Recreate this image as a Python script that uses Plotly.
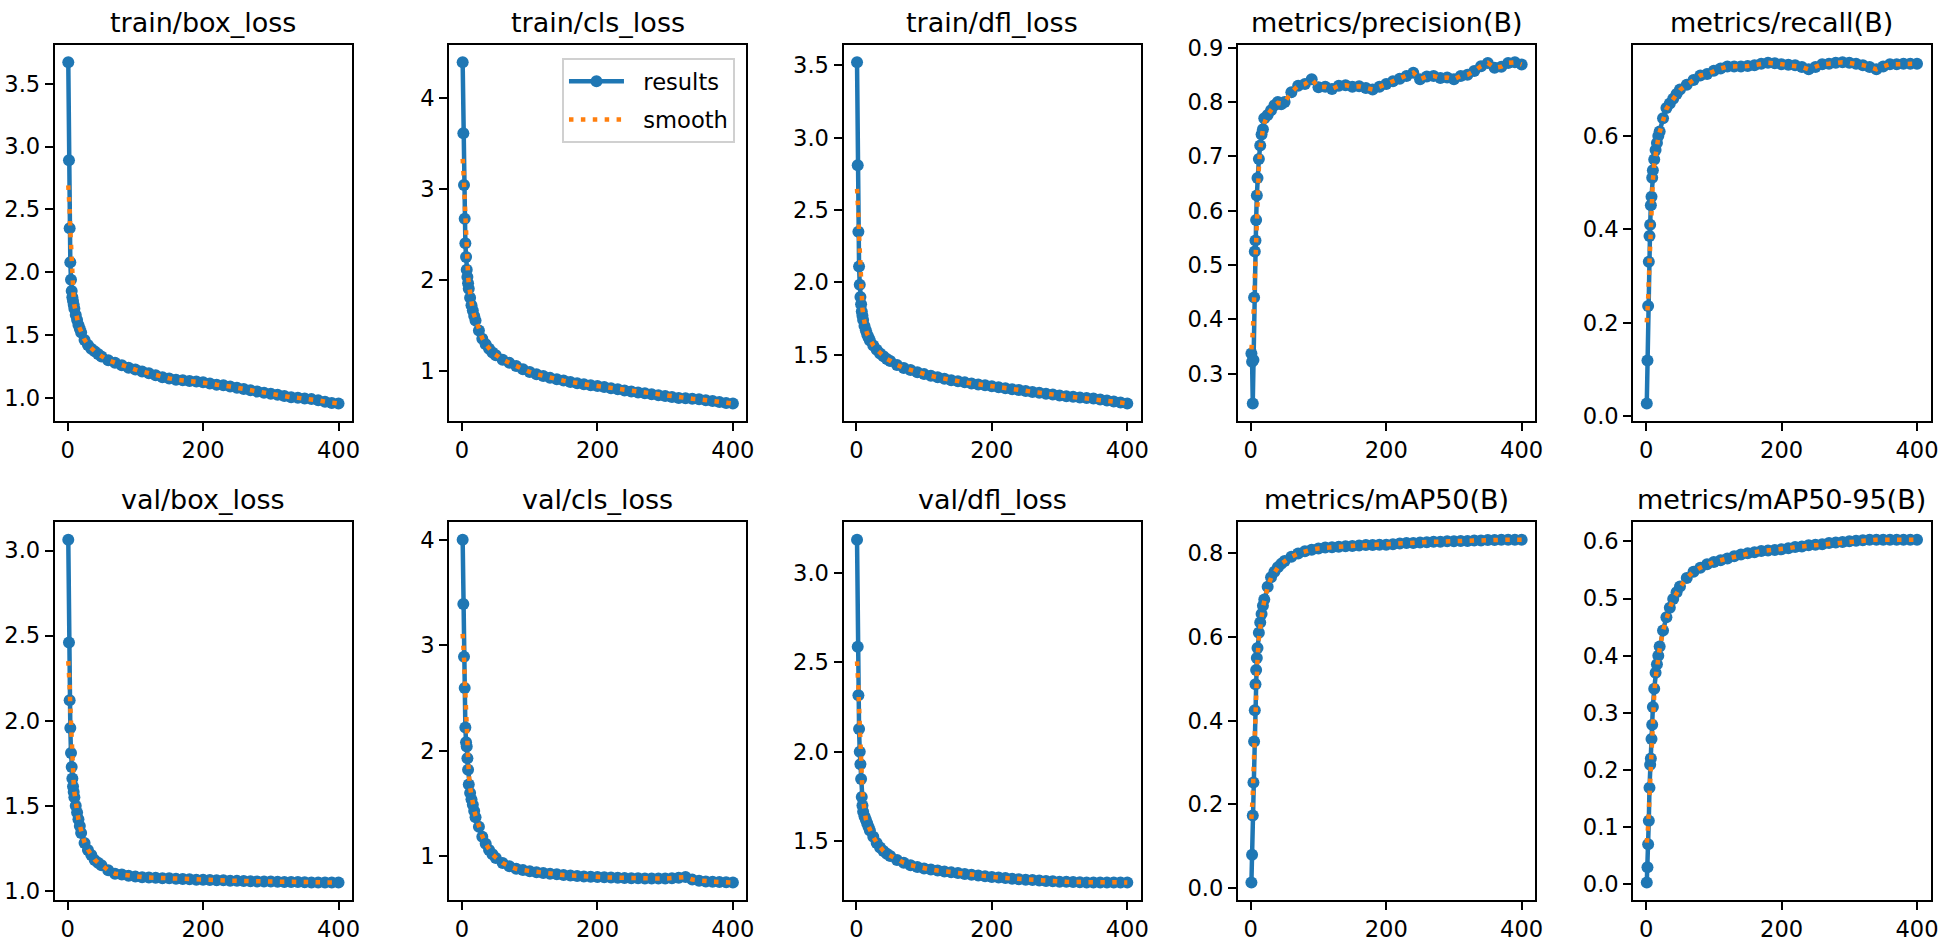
import numpy as np
import plotly.graph_objects as go
from plotly.subplots import make_subplots

epochs = [1, 2, 3, 4, 5, 6, 7, 8, 9, 10, 12, 14, 16, 18, 20,
          25, 30, 35, 40, 45, 50, 60, 70, 80, 90, 100, 110, 120, 130, 140,
          150, 160, 170, 180, 190, 200, 210, 220, 230, 240, 250, 260, 270,
          280, 290, 300, 310, 320, 330, 340, 350, 360, 370, 380, 390, 400]

train_box = [3.67, 2.89, 2.35, 2.08, 1.94, 1.85, 1.80, 1.77, 1.74, 1.71, 1.66, 1.62, 1.58, 1.55, 1.52,
             1.46, 1.42, 1.39, 1.37, 1.35, 1.33, 1.30, 1.28, 1.26, 1.24, 1.225, 1.21, 1.195, 1.18, 1.165,
             1.155, 1.145, 1.14, 1.135, 1.13, 1.125, 1.115, 1.105, 1.10, 1.09, 1.08, 1.07, 1.06,
             1.05, 1.04, 1.033, 1.025, 1.015, 1.005, 1.0, 0.995, 0.99, 0.98, 0.97, 0.96, 0.955]

train_cls = [4.39, 3.61, 3.04, 2.67, 2.40, 2.25, 2.11, 2.03, 1.96, 1.90, 1.80, 1.72, 1.66, 1.60, 1.55,
             1.44, 1.35, 1.29, 1.24, 1.20, 1.17, 1.12, 1.085, 1.05, 1.015, 0.985, 0.96, 0.94, 0.92, 0.905,
             0.89, 0.875, 0.86, 0.85, 0.84, 0.83, 0.82, 0.805, 0.795, 0.78, 0.77, 0.76, 0.75,
             0.74, 0.73, 0.72, 0.71, 0.70, 0.695, 0.69, 0.685, 0.675, 0.665, 0.655, 0.645, 0.638]

train_dfl = [3.52, 2.81, 2.35, 2.11, 1.985, 1.90, 1.85, 1.80, 1.77, 1.74, 1.70, 1.67, 1.64, 1.62, 1.60,
             1.565, 1.536, 1.51, 1.49, 1.472, 1.457, 1.43, 1.41, 1.395, 1.38, 1.367, 1.355, 1.345, 1.335, 1.325,
             1.317, 1.31, 1.303, 1.296, 1.29, 1.283, 1.277, 1.27, 1.263, 1.257, 1.25, 1.244, 1.238,
             1.232, 1.226, 1.22, 1.215, 1.21, 1.205, 1.202, 1.198, 1.192, 1.185, 1.178, 1.171, 1.164]

precision = [0.337, 0.322, 0.245, 0.325, 0.44, 0.525, 0.545, 0.583, 0.628, 0.66, 0.695, 0.72, 0.74, 0.75, 0.77,
             0.776, 0.785, 0.794, 0.80, 0.796, 0.80, 0.818, 0.83, 0.833, 0.842, 0.827, 0.828, 0.824, 0.83, 0.831,
             0.828, 0.829, 0.826, 0.823, 0.828, 0.833, 0.838, 0.843, 0.848, 0.854, 0.842, 0.847, 0.848,
             0.844, 0.845, 0.842, 0.848, 0.85, 0.857, 0.866, 0.872, 0.863, 0.865, 0.872, 0.873, 0.869]

recall = [0.027, 0.119, 0.236, 0.331, 0.386, 0.41, 0.452, 0.47, 0.511, 0.527, 0.55, 0.57, 0.585, 0.60, 0.61,
          0.638, 0.66, 0.67, 0.68, 0.69, 0.70, 0.71, 0.72, 0.73, 0.733, 0.74, 0.745, 0.749, 0.749, 0.749,
          0.75, 0.752, 0.755, 0.757, 0.756, 0.754, 0.753, 0.752, 0.748, 0.743, 0.748, 0.754, 0.755,
          0.757, 0.758, 0.757, 0.755, 0.752, 0.748, 0.743, 0.749, 0.754, 0.754, 0.755, 0.755, 0.755]

val_box = [3.064, 2.46, 2.12, 1.956, 1.81, 1.727, 1.66, 1.613, 1.58, 1.55, 1.50, 1.46, 1.42, 1.38, 1.34,
           1.28, 1.24, 1.21, 1.18, 1.165, 1.15, 1.12, 1.10, 1.095, 1.088, 1.083, 1.08, 1.078, 1.076, 1.074,
           1.073, 1.071, 1.069, 1.067, 1.065, 1.064, 1.063, 1.062, 1.061, 1.059, 1.058, 1.057, 1.056,
           1.055, 1.055, 1.054, 1.053, 1.052, 1.051, 1.051, 1.05, 1.049, 1.049, 1.048, 1.048, 1.048]

val_cls = [4.0, 3.39, 2.89, 2.595, 2.22, 2.08, 2.04, 1.93, 1.82, 1.68, 1.60, 1.54, 1.49, 1.43, 1.37,
           1.28, 1.186, 1.12, 1.06, 1.02, 0.985, 0.938, 0.907, 0.882, 0.87, 0.86, 0.85, 0.842, 0.836, 0.83,
           0.823, 0.818, 0.814, 0.81, 0.807, 0.805, 0.802, 0.80, 0.797, 0.795, 0.793, 0.792, 0.791,
           0.79, 0.79, 0.79, 0.792, 0.797, 0.805, 0.78, 0.77, 0.762, 0.76, 0.758, 0.755, 0.752]

val_dfl = [3.185, 2.586, 2.316, 2.127, 2.0, 1.93, 1.848, 1.747, 1.70, 1.665, 1.64, 1.62, 1.60, 1.58, 1.56,
           1.525, 1.49, 1.465, 1.445, 1.43, 1.417, 1.395, 1.38, 1.366, 1.356, 1.348, 1.342, 1.336, 1.331, 1.326,
           1.322, 1.317, 1.313, 1.309, 1.305, 1.30, 1.297, 1.294, 1.291, 1.288, 1.285, 1.283, 1.281,
           1.278, 1.276, 1.274, 1.273, 1.272, 1.271, 1.27, 1.269, 1.269, 1.269, 1.269, 1.269, 1.27]

map50 = [0.0125, 0.079, 0.173, 0.252, 0.35, 0.425, 0.487, 0.521, 0.55, 0.574, 0.61, 0.635, 0.655, 0.675, 0.69,
         0.72, 0.743, 0.756, 0.767, 0.775, 0.782, 0.792, 0.80, 0.805, 0.809, 0.812, 0.814, 0.815, 0.816, 0.817,
         0.818, 0.819, 0.82, 0.82, 0.821, 0.821, 0.822, 0.824, 0.825, 0.825, 0.826, 0.827, 0.828,
         0.828, 0.829, 0.829, 0.83, 0.83, 0.831, 0.831, 0.832, 0.832, 0.833, 0.833, 0.833, 0.833]

map50_95 = [0.003, 0.030, 0.070, 0.111, 0.169, 0.209, 0.22, 0.254, 0.279, 0.31, 0.342, 0.37, 0.385, 0.40, 0.416,
            0.444, 0.467, 0.484, 0.499, 0.511, 0.521, 0.536, 0.547, 0.554, 0.56, 0.564, 0.567, 0.57, 0.574, 0.577,
            0.579, 0.581, 0.583, 0.584, 0.585, 0.586, 0.588, 0.59, 0.591, 0.593, 0.594, 0.595, 0.597,
            0.598, 0.599, 0.60, 0.601, 0.602, 0.603, 0.603, 0.603, 0.603, 0.603, 0.603, 0.603, 0.603]

titles = ["train/box_loss", "train/cls_loss", "train/dfl_loss", "metrics/precision(B)", "metrics/recall(B)",
          "val/box_loss", "val/cls_loss", "val/dfl_loss", "metrics/mAP50(B)", "metrics/mAP50-95(B)"]
series = [train_box, train_cls, train_dfl, precision, recall,
          val_box, val_cls, val_dfl, map50, map50_95]
dticks = [0.5, 1, 0.5, 0.1, 0.2, 0.5, 1, 0.5, 0.2, 0.1]
tfmts = [".1f", ".0f", ".1f", ".1f", ".1f", ".1f", ".0f", ".1f", ".1f", ".1f"]

BLUE = "#1f77b4"
ORANGE = "#ff7f0e"
W, H = 1949, 943
FONT = "DejaVu Sans"


def gauss_smooth(x, y, sigma=3.0):
    # gaussian smoothing in epoch units, edges reflected (like gaussian_filter1d)
    x = np.asarray(x, float)
    y = np.asarray(y, float)
    dx = np.gradient(x)
    xa = np.concatenate([2 * x[0] - 1 - x[::-1], x, 2 * x[-1] + 1 - x[::-1]])
    ya = np.concatenate([y[::-1], y, y[::-1]])
    da = np.concatenate([dx[::-1], dx, dx[::-1]])
    out = []
    for xi in x:
        w = np.exp(-0.5 * ((xi - xa) / sigma) ** 2) * da
        out.append(np.sum(w * ya) / np.sum(w))
    return out


fig = make_subplots(rows=2, cols=5)

lefts = [55, 451, 847, 1243, 1640]
pw = 298.5
rows_px = [(35, 418), (522, 907)]

for i, (t, y) in enumerate(zip(titles, series)):
    r = i // 5 + 1
    c = i % 5 + 1
    leg = (i == 1)
    fig.add_trace(go.Scatter(x=epochs, y=y, mode="lines+markers", name="\u00a0\u00a0results",
                             legendgroup="a" if leg else None,
                             line=dict(color=BLUE, width=4.5),
                             marker=dict(color=BLUE, size=12),
                             showlegend=leg), row=r, col=c)
    ys = gauss_smooth(epochs, y)
    fig.add_trace(go.Scatter(x=epochs, y=ys, mode="lines", name="\u00a0\u00a0smooth",
                             legendgroup="b" if leg else None,
                             line=dict(color=ORANGE, width=4.5, dash="4.5px,7.4px"),
                             showlegend=leg), row=r, col=c)

    x0 = lefts[c - 1]
    top, bot = rows_px[r - 1]
    xdom = [x0 / W, (x0 + pw) / W]
    ydom = [1 - bot / H, 1 - top / H]

    lo = min(min(y), min(ys))
    hi = max(max(y), max(ys))
    pad = 0.05 * (hi - lo)
    xpad = 0.05 * (epochs[-1] - epochs[0])

    fig.update_xaxes(domain=xdom, range=[epochs[0] - xpad, epochs[-1] + xpad],
                     tickvals=[0, 200, 400], row=r, col=c)
    fig.update_yaxes(domain=ydom, range=[lo - pad, hi + pad], dtick=dticks[i],
                     tickformat=tfmts[i], row=r, col=c)

    fig.add_annotation(text=t, x=(xdom[0] + xdom[1]) / 2, y=ydom[1],
                       xref="paper", yref="paper", xanchor="center", yanchor="bottom",
                       yshift=5, showarrow=False,
                       font=dict(family=FONT, size=27, color="black"))

fig.update_xaxes(showgrid=False, zeroline=False, showline=True, mirror=True,
                 linecolor="black", linewidth=2, ticks="outside", ticklen=8,
                 tickwidth=2, tickcolor="black",
                 tickfont=dict(family=FONT, size=22.6, color="black"))
fig.update_yaxes(showgrid=False, zeroline=False, showline=True, mirror=True,
                 linecolor="black", linewidth=2, ticks="outside", ticklen=8,
                 tickwidth=2, tickcolor="black",
                 tickfont=dict(family=FONT, size=22.6, color="black"))

fig.update_layout(
    width=W, height=H,
    margin=dict(l=0, r=0, t=0, b=0),
    paper_bgcolor="white", plot_bgcolor="white",
    font=dict(family=FONT, size=22.6, color="black"),
    legend=dict(x=738 / W, y=1 - 48 / H, xanchor="right", yanchor="top",
                bgcolor="rgba(255,255,255,0.8)", bordercolor="#d0d0d0", borderwidth=2,
                itemwidth=55, tracegroupgap=6,
                font=dict(family=FONT, size=22.6, color="black")),
)

fig.write_html("out.html", config={"displayModeBar": False},
               post_script="document.body.style.margin='0';")
